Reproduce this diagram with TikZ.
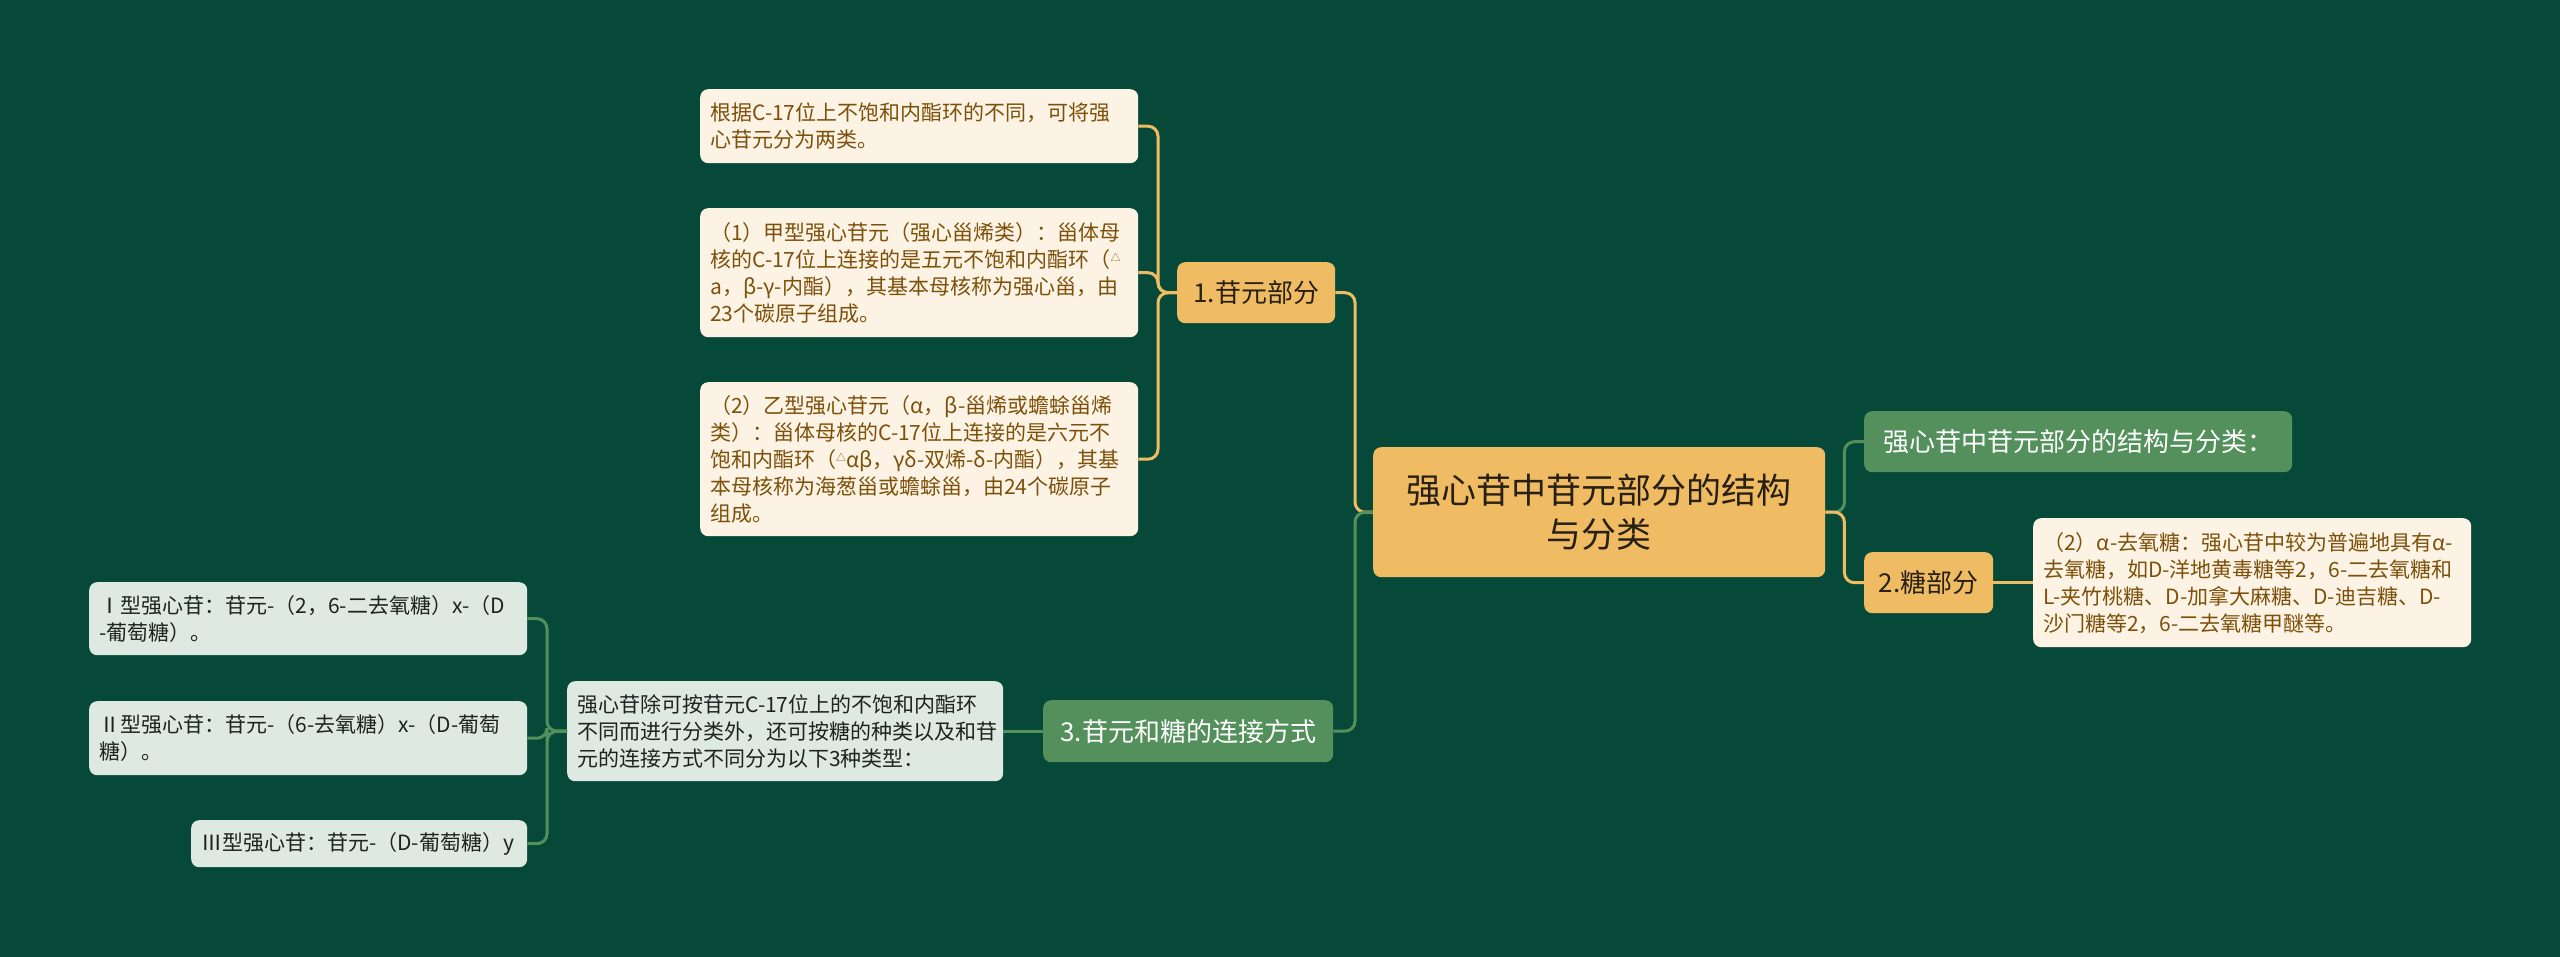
\documentclass[tikz,border=0pt]{standalone}
\usepackage{fontspec}
\setmainfont{Noto Sans CJK SC}
\exhyphenpenalty=10000
\hyphenpenalty=10000
\definecolor{bgc}{RGB}{7,73,57}
\definecolor{yel}{RGB}{240,188,99}
\definecolor{grn}{RGB}{83,144,92}
\definecolor{crm}{RGB}{253,243,228}
\definecolor{pal}{RGB}{222,233,225}
\definecolor{brn}{RGB}{125,80,10}
\definecolor{drk}{RGB}{40,32,20}
\definecolor{drk2}{RGB}{30,34,32}
\newcommand\trisym{\raisebox{6pt}{\fontsize{10pt}{10pt}\selectfont △}}
\begin{document}
\begin{tikzpicture}[x=1pt,y=-1pt,
  boxbase/.style={rounded corners=8pt, anchor=north west, inner ysep=0pt},
  detail/.style={boxbase, inner xsep=10pt, align=left, font=\fontsize{21pt}{27pt}\selectfont},
  creambox/.style={detail, fill=crm, text=brn},
  palebox/.style={detail, fill=pal, text=drk2},
  topic/.style={boxbase, inner xsep=0pt, align=center, font=\fontsize{26pt}{32pt}\selectfont},
  yeltopic/.style={topic, fill=yel, text=drk},
  grntopic/.style={topic, fill=grn, text=white},
  rootbox/.style={boxbase, inner xsep=10pt, align=center, fill=yel, text=drk, font=\fontsize{35pt}{44pt}\selectfont},
  yline/.style={draw=yel, line width=3pt, rounded corners=10pt},
  gline/.style={draw=grn, line width=3pt, rounded corners=10pt}
]
\fill[bgc] (0,0) rectangle (2560,957);
\useasboundingbox (0,0) rectangle (2560,957);

% root
\node[rootbox, text width=432pt, minimum height=130pt] (root) at (1373,447) {强心苷中苷元部分的结构\\与分类};

% left upper branch
\node[yeltopic, minimum width=158pt, minimum height=61pt] (n1) at (1177,262) {1.苷元部分};
\node[creambox, text width=418pt, minimum height=74pt] (a1) at (700,89) {根据C-17位上不饱和内酯环的不同，可将强\\心苷元分为两类。};
\node[creambox, text width=418pt, minimum height=129pt] (a2) at (700,208) {（1）甲型强心苷元（强心甾烯类）：甾体母\\核的C-17位上连接的是五元不饱和内酯环（\trisym\\a，β-γ-内酯），其基本母核称为强心甾，由\\23个碳原子组成。};
\node[creambox, text width=418pt, minimum height=154pt] (a3) at (700,382) {（2）乙型强心苷元（α，β-甾烯或蟾蜍甾烯\\类）：甾体母核的C-17位上连接的是六元不\\饱和内酯环（\trisym αβ，γδ-双烯-δ-内酯），其基\\本母核称为海葱甾或蟾蜍甾，由24个碳原子\\组成。};

% left lower branch
\node[grntopic, minimum width=290pt, minimum height=62pt] (n3) at (1043,700) {3.苷元和糖的连接方式};
\node[palebox, text width=416pt, minimum height=100pt] (c0) at (567,681) {强心苷除可按苷元C-17位上的不饱和内酯环\\不同而进行分类外，还可按糖的种类以及和苷\\元的连接方式不同分为以下3种类型：};
\node[palebox, text width=418pt, minimum height=73pt] (c1) at (89,582) {Ⅰ型强心苷：苷元-（2，6-二去氧糖）x-（D\\-葡萄糖）。};
\node[palebox, text width=418pt, minimum height=74pt] (c2) at (89,701) {Ⅱ型强心苷：苷元-（6-去氧糖）x-（D-葡萄\\糖）。};
\node[palebox, text width=316pt, minimum height=47pt] (c3) at (191,820) {Ⅲ型强心苷：苷元-（D-葡萄糖）y};

% right branch
\node[grntopic, minimum width=428pt, minimum height=61pt] (g1) at (1864,411) {强心苷中苷元部分的结构与分类：};
\node[yeltopic, minimum width=129pt, minimum height=61pt] (n2) at (1864,552) {2.糖部分};
\node[creambox, text width=418pt, minimum height=129pt] (b1) at (2033,518) {（2）α-去氧糖：强心苷中较为普遍地具有α-\\去氧糖，如D-洋地黄毒糖等2，6-二去氧糖和\\L-夹竹桃糖、D-加拿大麻糖、D-迪吉糖、D-\\沙门糖等2，6-二去氧糖甲醚等。};

% connectors
\draw[yline] (n1.west) -- ++(-19,0) |- (a1.east);
\draw[yline] (n1.west) -- ++(-19,0) |- (a2.east);
\draw[yline] (n1.west) -- ++(-19,0) |- (a3.east);
\draw[yline] (root.west) -- ++(-18,0) |- (n1.east);
\draw[gline] (root.west) -- ++(-18,0) |- (n3.east);
\draw[gline] (n3.west) -- (c0.east);
\draw[gline] (c0.west) -- ++(-20,0) |- (c1.east);
\draw[gline] (c0.west) -- ++(-20,0) |- (c2.east);
\draw[gline] (c0.west) -- ++(-20,0) |- (c3.east);
\draw[gline] (root.east) -- ++(19,0) |- (g1.west);
\draw[yline] (root.east) -- ++(19,0) |- (n2.west);
\draw[yline] (n2.east) -- (b1.west);
\end{tikzpicture}
\end{document}
